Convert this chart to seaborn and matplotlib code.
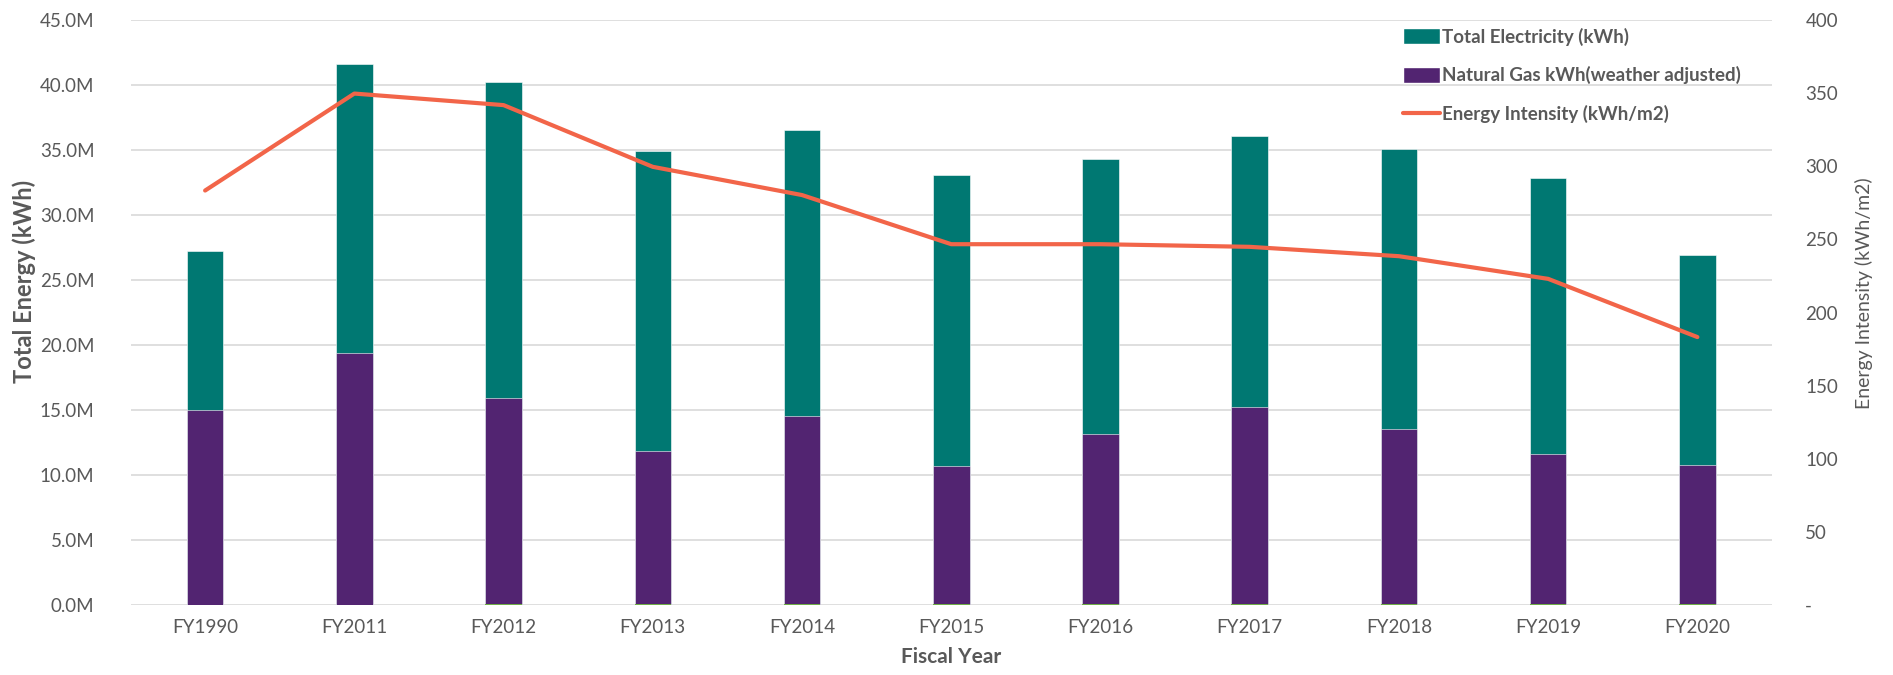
import numpy as np
import pandas as pd
import matplotlib
matplotlib.use("Agg")
import matplotlib.pyplot as plt
import seaborn as sns
from matplotlib.patches import Patch
from matplotlib.lines import Line2D
from matplotlib.ticker import FuncFormatter, MultipleLocator

# ---- data ----
years = ["FY1990", "FY2011", "FY2012", "FY2013", "FY2014", "FY2015",
         "FY2016", "FY2017", "FY2018", "FY2019", "FY2020"]
other_M = [0.0, 0.0, 0.10, 0.10, 0.10, 0.10, 0.10, 0.10, 0.10, 0.10, 0.10]  # tiny green series
gas_M = [15.0, 19.38, 15.86, 11.75, 14.42, 10.62, 13.09, 15.11, 13.44, 11.53, 10.68]
elec_M = [12.21, 22.20, 24.24, 23.07, 21.99, 22.35, 21.09, 20.86, 21.57, 21.22, 16.11]
intensity = [283.4, 349.7, 341.8, 299.6, 280.3, 246.7, 246.7, 244.9, 238.5, 223.0, 183.2]

TEAL = "#007872"
PURPLE = "#522471"
GREEN = "#70AD47"
ORANGE = "#F26549"
GREY_TXT = "#595959"
GRID = "#D9D9D9"

sns.set_theme(style="white")
plt.rcParams["font.family"] = ["Lato", "DejaVu Sans"]

df = pd.DataFrame({
    "year": years,
    "other": np.array(other_M) * 1e6,
    "gas": np.array(gas_M) * 1e6,
    "elec": np.array(elec_M) * 1e6,
    "intensity": intensity,
})
df["gas_top"] = df["other"] + df["gas"]
df["total"] = df["gas_top"] + df["elec"]

fig = plt.figure(figsize=(18.93, 6.75), dpi=100)
ax = fig.add_axes([130.5 / 1893, 1 - 605 / 675, (1772 - 130.5) / 1893, (605 - 20) / 675])

bw = 0.245
sns.barplot(data=df, x="year", y="total", color=TEAL, width=bw, ax=ax,
            saturation=1, edgecolor="white", linewidth=0.4, zorder=3)
sns.barplot(data=df, x="year", y="gas_top", color=PURPLE, width=bw, ax=ax,
            saturation=1, edgecolor="white", linewidth=0.4, zorder=3)
sns.barplot(data=df, x="year", y="other", color=GREEN, width=bw, ax=ax,
            saturation=1, linewidth=0, zorder=3)

ax.set_ylim(0, 45e6)
ax.set_xlim(-0.5, len(years) - 0.5)
ax.yaxis.set_major_locator(MultipleLocator(5e6))
ax.yaxis.set_major_formatter(FuncFormatter(lambda v, p: f"{v/1e6:.1f}M"))
ax.grid(axis="y", color=GRID, linewidth=1.2, zorder=0)
ax.set_axisbelow(True)
for s in ax.spines.values():
    s.set_visible(False)
ax.tick_params(axis="both", length=0, labelsize=13.5, colors=GREY_TXT, pad=10)
ax.tick_params(axis="y", pad=26)
ax.set_xlabel("Fiscal Year", fontsize=15, fontweight="bold", color=GREY_TXT, labelpad=8)
ax.set_ylabel("Total Energy (kWh)", fontsize=17, fontweight="bold", color=GREY_TXT)
ax.yaxis.set_label_coords(-0.0575, 0.553)

ax2 = ax.twinx()
sns.lineplot(x=np.arange(len(years)), y=df["intensity"], ax=ax2, color=ORANGE,
             linewidth=3, zorder=5)
ax2.set_ylim(0, 400)
ax2.yaxis.set_major_locator(MultipleLocator(50))
ax2.yaxis.set_major_formatter(FuncFormatter(lambda v, p: "-" if v == 0 else f"{v:.0f}"))
for s in ax2.spines.values():
    s.set_visible(False)
ax2.tick_params(axis="y", length=0, labelsize=13.5, colors=GREY_TXT, pad=24)
ax2.set_ylabel("Energy Intensity (kWh/m2)", fontsize=14, color=GREY_TXT)
ax2.yaxis.set_label_coords(1.0505, 0.533)
ax2.grid(False)

handles = [Patch(facecolor=TEAL, edgecolor="white"),
           Patch(facecolor=PURPLE, edgecolor="white"),
           Line2D([0], [0], color=ORANGE, linewidth=3)]
labels = ["Total Electricity (kWh)", "Natural Gas kWh(weather adjusted)", "Energy Intensity (kWh/m2)"]
leg = ax2.legend(handles, labels, loc="upper left", bbox_to_anchor=(1395 / 1893, 1 - 20 / 675),
                 bbox_transform=fig.transFigure, frameon=False, labelspacing=1.1,
                 handlelength=2.0, handleheight=0.9, handletextpad=0.1, borderaxespad=0,
                 prop={"size": 13.5, "weight": "bold"})
for t in leg.get_texts():
    t.set_color(GREY_TXT)

fig.savefig("out.png", dpi=100)
